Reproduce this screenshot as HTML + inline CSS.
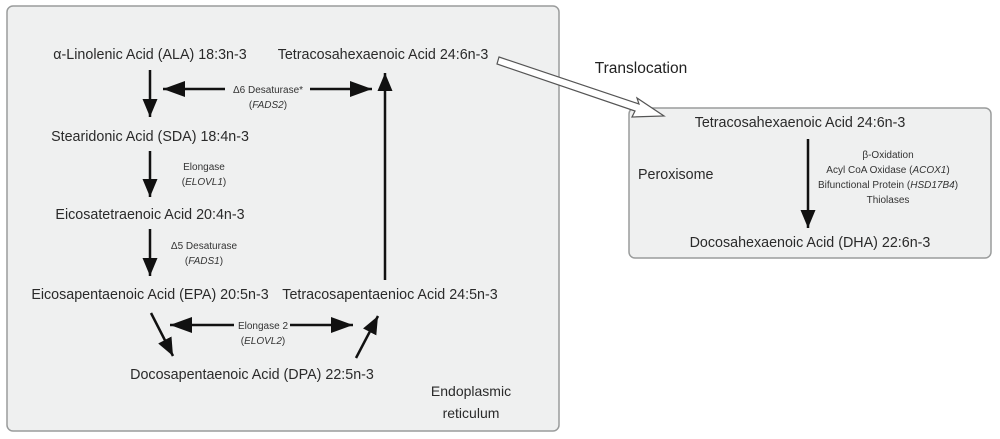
<!DOCTYPE html>
<html><head><meta charset="utf-8"><style>
body{margin:0;background:#fff}
svg{display:block;font-family:"Liberation Sans","DejaVu Sans",sans-serif}
.m{font-size:14.3px;fill:#2a2a2a}
.s{font-size:10px;fill:#333}
</style></head><body>
<svg width="1000" height="439" viewBox="0 0 1000 439">
<defs>
<marker id="b" viewBox="0 0 10 10" refX="10" refY="5" markerWidth="18" markerHeight="15" orient="auto" markerUnits="userSpaceOnUse" preserveAspectRatio="none"><path d="M0,0 L10,5 L0,10z" fill="#111"/></marker>
<marker id="c" viewBox="0 0 10 10" refX="10" refY="5" markerWidth="22" markerHeight="16" orient="auto" markerUnits="userSpaceOnUse" preserveAspectRatio="none"><path d="M0,0 L10,5 L0,10z" fill="#111"/></marker>
</defs>
<rect x="7" y="6" width="552" height="425" rx="6" fill="#eff0f0" stroke="#9a9c9c" stroke-width="1.5"/>
<rect x="629" y="108" width="362" height="150" rx="6" fill="#eff0f0" stroke="#9a9c9c" stroke-width="1.5"/>
<g stroke="#111" stroke-width="2.5" fill="none">
<line x1="150" y1="70" x2="150" y2="117" marker-end="url(#b)"/>
<line x1="150" y1="151" x2="150" y2="197" marker-end="url(#b)"/>
<line x1="150" y1="229" x2="150" y2="276" marker-end="url(#b)"/>
<line x1="385" y1="280" x2="385" y2="73" marker-end="url(#b)"/>
<line x1="225" y1="89" x2="163" y2="89" marker-end="url(#c)"/>
<line x1="310" y1="89" x2="372" y2="89" marker-end="url(#c)"/>
<line x1="234" y1="325" x2="170" y2="325" marker-end="url(#c)"/>
<line x1="290" y1="325" x2="353" y2="325" marker-end="url(#c)"/>
<line x1="151" y1="313" x2="173" y2="356" marker-end="url(#b)"/>
<line x1="356" y1="358" x2="378" y2="316" marker-end="url(#b)"/>
<line x1="808" y1="139" x2="808" y2="228" marker-end="url(#b)"/>
</g>
<path d="M499,57 L639,104 L637,98 L664,116 L632,117 L635,111 L497,64 Z" fill="#fff" stroke="#555" stroke-width="1.2"/>
<g class="m" text-anchor="middle">
<text x="150" y="59">α-Linolenic Acid (ALA) 18:3n-3</text>
<text x="383" y="59">Tetracosahexaenoic Acid 24:6n-3</text>
<text x="150" y="141">Stearidonic Acid (SDA) 18:4n-3</text>
<text x="150" y="219">Eicosatetraenoic Acid 20:4n-3</text>
<text x="150" y="299">Eicosapentaenoic Acid (EPA) 20:5n-3</text>
<text x="390" y="299">Tetracosapentaenioc Acid 24:5n-3</text>
<text x="252" y="379">Docosapentaenoic Acid (DPA) 22:5n-3</text>
<text x="471" y="396" font-size="14">Endoplasmic</text>
<text x="471" y="418" font-size="14">reticulum</text>
<text x="800" y="127">Tetracosahexaenoic Acid 24:6n-3</text>
<text x="810" y="247">Docosahexaenoic Acid (DHA) 22:6n-3</text>
<text x="641" y="73" font-size="15.5" style="fill:#222">Translocation</text>
</g>
<text x="638" y="179" class="m" font-size="14">Peroxisome</text>
<g class="s" text-anchor="middle">
<text x="268" y="93">Δ6 Desaturase*</text>
<text x="268" y="108">(<tspan font-style="italic">FADS2</tspan>)</text>
<text x="204" y="170">Elongase</text>
<text x="204" y="185">(<tspan font-style="italic">ELOVL1</tspan>)</text>
<text x="204" y="249">Δ5 Desaturase</text>
<text x="204" y="264">(<tspan font-style="italic">FADS1</tspan>)</text>
<text x="263" y="329">Elongase 2</text>
<text x="263" y="344">(<tspan font-style="italic">ELOVL2</tspan>)</text>
<text x="888" y="158">β-Oxidation</text>
<text x="888" y="173">Acyl CoA Oxidase (<tspan font-style="italic">ACOX1</tspan>)</text>
<text x="888" y="188">Bifunctional Protein (<tspan font-style="italic">HSD17B4</tspan>)</text>
<text x="888" y="203">Thiolases</text>
</g>
</svg>
</body></html>
